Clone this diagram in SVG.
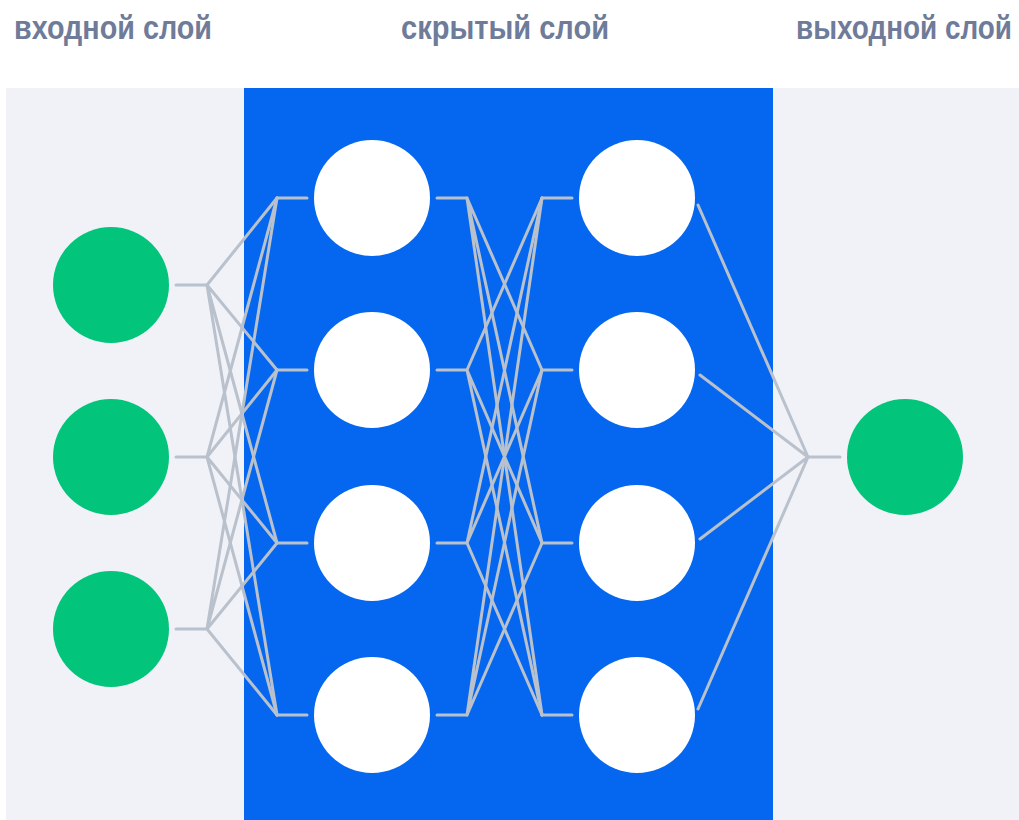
<svg xmlns="http://www.w3.org/2000/svg" width="1019" height="820" viewBox="0 0 1019 820">
<style>
.lbl{font-family:"Liberation Sans",Arial,sans-serif;font-size:28px;font-weight:bold;fill:#6e7b99}
.in{fill:#03c47b}
.hid{fill:#ffffff}
.c{fill:none;stroke:#b9c1cd;stroke-width:3;stroke-linejoin:round;stroke-linecap:round}
</style>
<rect width="1019" height="820" fill="#ffffff"/>
<rect x="6" y="88" width="1013" height="732" fill="#f1f2f7"/>
<rect x="244" y="88" width="529" height="732" fill="#0567ef"/>
<text class="lbl" transform="translate(14 39) scale(1 1.18)" textLength="198" lengthAdjust="spacingAndGlyphs">входной слой</text>
<text class="lbl" transform="translate(401 39) scale(1 1.18)" textLength="208" lengthAdjust="spacingAndGlyphs">скрытый слой</text>
<text class="lbl" transform="translate(796 39) scale(1 1.18)" textLength="216" lengthAdjust="spacingAndGlyphs">выходной слой</text>
<g id="connectors" class="c">
<path d="M176 285H207M176 457H207M176 629H207"/>
<path d="M277 198H307M277 370H307M277 543H307M277 715H307"/>
<path d="M207 285L277 198M207 285L277 370M207 285L277 543M207 285L277 715"/>
<path d="M207 457L277 198M207 457L277 370M207 457L277 543M207 457L277 715"/>
<path d="M207 629L277 198M207 629L277 370M207 629L277 543M207 629L277 715"/>
<path d="M437 198H467M437 370H467M437 543H467M437 715H467"/>
<path d="M542 198H572M542 370H572M542 543H572M542 715H572"/>
<path d="M467 198L542 370M467 198L542 543M467 198L542 715"/>
<path d="M467 370L542 198M467 370L542 543M467 370L542 715"/>
<path d="M467 543L542 198M467 543L542 370M467 543L542 715"/>
<path d="M467 715L542 198M467 715L542 370M467 715L542 543"/>
<path d="M698 205L808 457M700 375L808 457M700 539L808 457M698 709L808 457M808 457H840"/>
</g>
<g id="input1"><circle class="in" cx="111" cy="285" r="58"/></g>
<g id="input2"><circle class="in" cx="111" cy="457" r="58"/></g>
<g id="input3"><circle class="in" cx="111" cy="629" r="58"/></g>
<g id="h1a"><circle class="hid" cx="372" cy="198" r="58"/></g>
<g id="h1b"><circle class="hid" cx="372" cy="370" r="58"/></g>
<g id="h1c"><circle class="hid" cx="372" cy="543" r="58"/></g>
<g id="h1d"><circle class="hid" cx="372" cy="715" r="58"/></g>
<g id="h2a"><circle class="hid" cx="637" cy="198" r="58"/></g>
<g id="h2b"><circle class="hid" cx="637" cy="370" r="58"/></g>
<g id="h2c"><circle class="hid" cx="637" cy="543" r="58"/></g>
<g id="h2d"><circle class="hid" cx="637" cy="715" r="58"/></g>
<g id="output"><circle class="in" cx="905" cy="457" r="58"/></g>
</svg>
